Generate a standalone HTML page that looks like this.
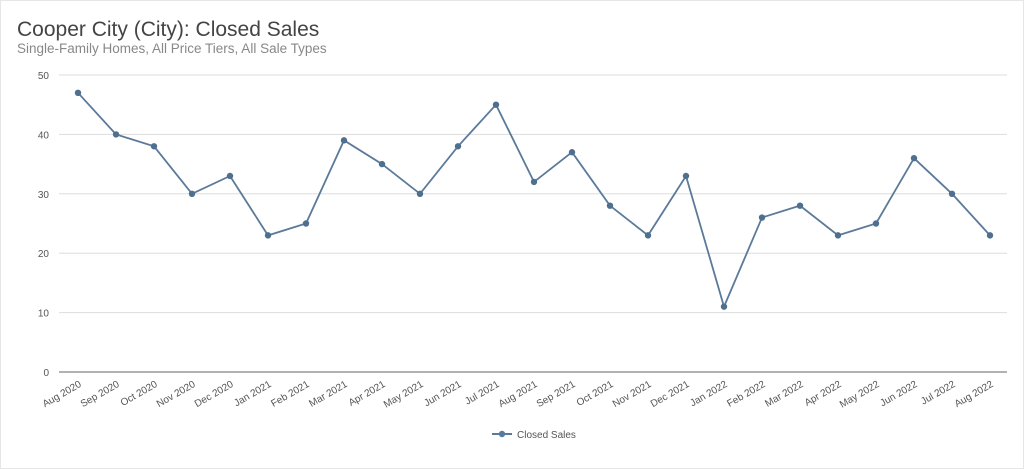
<!DOCTYPE html>
<html><head><meta charset="utf-8"><style>
body{margin:0;background:#fff;font-family:"Liberation Sans",sans-serif;}
#wrap{position:relative;width:1024px;height:469px;overflow:hidden;border:1px solid #e6e6e6;box-sizing:border-box;}
</style></head><body>
<div id="wrap">
<svg id="chart" width="1024" height="469">
<text x="16" y="35" font-size="21" fill="#444">Cooper City (City): Closed Sales</text>
<text x="16" y="52" font-size="13.5" fill="#888">Single-Family Homes, All Price Tiers, All Sale Types</text>
<g id="grid"></g><g id="xlabels"></g><g id="series"></g>
<g>
<line x1="491" y1="433" x2="511" y2="433" stroke="#5b7a99" stroke-width="2"/>
<circle cx="501" cy="433" r="3.2" fill="#5b7a99"/>
<text x="516" y="437" font-size="10" fill="#555">Closed Sales</text>
</g>
</svg></div>
<script>
const categories=["Aug 2020","Sep 2020","Oct 2020","Nov 2020","Dec 2020","Jan 2021","Feb 2021","Mar 2021","Apr 2021","May 2021","Jun 2021","Jul 2021","Aug 2021","Sep 2021","Oct 2021","Nov 2021","Dec 2021","Jan 2022","Feb 2022","Mar 2022","Apr 2022","May 2022","Jun 2022","Jul 2022","Aug 2022"];
const closedSales=[47,40,38,30,33,23,25,39,35,30,38,45,32,37,28,23,33,11,26,28,23,25,36,30,23];
const yTicks=[0,10,20,30,40,50];
const NS="http://www.w3.org/2000/svg";
const x0=77,x1=989,y0=371,y1=74,yMax=50;
const xs=i=>x0+(x1-x0)*i/(categories.length-1);
const ys=v=>y0-(y0-y1)*v/yMax;
const grid=document.getElementById('grid'),xl=document.getElementById('xlabels'),se=document.getElementById('series');
function mk(t,a,p){const e=document.createElementNS(NS,t);for(const k in a)e.setAttribute(k,a[k]);p.appendChild(e);return e;}
yTicks.forEach(v=>{
 const l=mk('line',{x1:58,x2:1006,y1:ys(v),y2:ys(v),stroke:v===0?'#666':'#ddd','stroke-width':1},grid);
 
 
 const t=mk('text',{x:48,y:ys(v)+4,'font-size':10,fill:'#555','text-anchor':'end'},grid);
 t.textContent=v;
 
 
});
categories.forEach((c,i)=>{
 const t=mk('text',{x:xs(i)+4,y:y0+14,'font-size':10,fill:'#555','text-anchor':'end',transform:`rotate(-30 ${xs(i)+4} ${y0+14})`},xl);
 t.textContent=c;
 
 
});
const pts=closedSales.map((v,i)=>xs(i)+','+ys(v)).join(' ');
const pl=mk('polyline',{points:pts,fill:'none',stroke:'#5b7a99','stroke-width':1.8},se);


closedSales.forEach((v,i)=>{
 const c=mk('circle',{cx:xs(i),cy:ys(v),r:3.2,fill:'#4f6f8f'},se);
 
 
});
</script>
</body></html>
